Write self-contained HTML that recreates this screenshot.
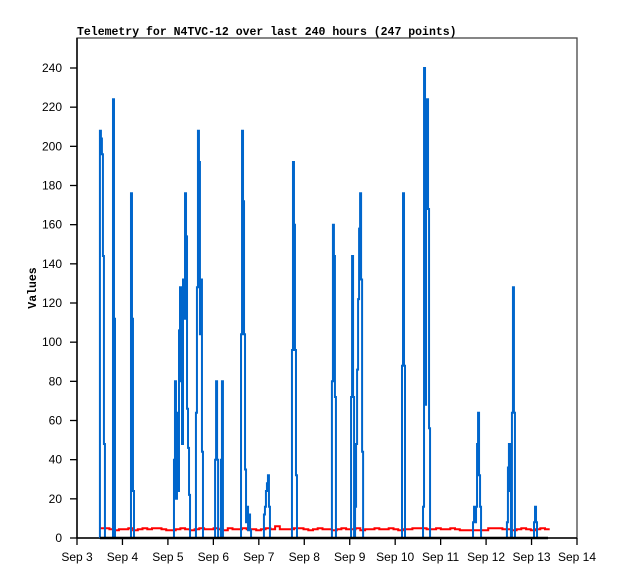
<!DOCTYPE html>
<html><head><meta charset="utf-8"><style>
html,body{margin:0;padding:0;background:#fff;}
svg{display:block;}
</style></head><body>
<svg id="chart" width="618" height="579" xmlns="http://www.w3.org/2000/svg">
<rect x="0" y="0" width="618" height="579" fill="#fff"/>
<text x="77" y="35" font-family="Liberation Mono, monospace" font-weight="bold" font-size="11.5" fill="#000">Telemetry for N4TVC-12 over last 240 hours (247 points)</text>
<text transform="translate(36,288) rotate(-90)" text-anchor="middle" font-family="Liberation Mono, monospace" font-weight="bold" font-size="11.5" fill="#000">Values</text>
<rect x="77" y="38" width="500" height="500" fill="none" stroke="#444" stroke-width="1.3"/>
<g id="axes"></g>
<g id="series"></g>
</svg>
<script>
// axis tick labels
const yTicks = [0,20,40,60,80,100,120,140,160,180,200,220,240];
const xTickLabels = ["Sep 3","Sep 4","Sep 5","Sep 6","Sep 7","Sep 8","Sep 9","Sep 10","Sep 11","Sep 12","Sep 13","Sep 14"];
// blue series: bursts of consecutive samples; start hour (since Sep 3 00:00) and sample values
const blueStep = 0.53;
const blueStart = [12.1,19.0,28.5,51.2,62.8,72.9,76.0,86.6,98.7,113.5,134.6,144.7,171.6,182.7,209.1,227.0,241.3];
const blueVals = [
 [208,204,196,144,48],
 [224,112],
 [176,112,24],
 [40,80,20,64,24,106,128,80,48,132,112,176,154,66,46,22],
 [64,128,208,192,104,132,44],
 [40,80,40],
 [40,80],
 [104,208,172,104,35,8,16,4,12,4],
 [12,16,24,28,32,16],
 [96,192,160,96,32],
 [80,160,144,72],
 [72,144,72,0,16,48,86,122,158,176,132,44],
 [88,176,88],
 [16,240,68,172,224,168,56],
 [8,16,8,16,48,64,32,16],
 [8,36,48,24,0,64,128,64],
 [8,16,8]
];
// red series: evenly sampled every 2.5 hours from hour 12.1
const redStart = 12.1;
const redStep = 2.5;
const redV = [5,5,4.5,4,4.5,4.5,5,4,4.5,5,4.5,5,5,4.5,4,4,4.5,5,4.5,4,4.5,5,4.5,4.5,5,4.5,4,5,4.5,4.5,
 5,4.5,4.5,4,4.5,5,4.5,6,4.5,4.5,4.5,5,5,4.5,4,4.5,5,4.5,4.5,4,4.5,5,4.5,4.5,5,4,4.5,4.5,5,4.5,
 4.5,5,4.5,4,4.5,4.5,5,5,5,4.5,4.5,5,4.5,4.5,5,4.5,4,4,4,4,4,4,5,5,5,4.5,4.5,4,4.5,5,4.5,4,4.5,5,4.5];
// zero series range (hours)
const zeroT = [12.1, 248.7];
const zeroV = [0, 0];

const NS = "http://www.w3.org/2000/svg";
const X0 = 77, X1 = 577, Y0 = 538, Y1 = 68;
function xs(h){ return X0 + h * (X1 - X0) / 264; }
function ys(v){ return Y0 - v * (Y0 - Y1) / 240; }
const axes = document.getElementById('axes');
const series = document.getElementById('series');
function mk(tag, attrs, parent){ const e = document.createElementNS(NS, tag); for (const k in attrs) e.setAttribute(k, attrs[k]); parent.appendChild(e); return e; }

yTicks.forEach(v => {
  const t = mk('line', {x1:70, x2:77, y1:ys(v), y2:ys(v), stroke:'#000', 'stroke-width':1.3}, axes);
  
  
  const l = mk('text', {x:62, y:ys(v)+4, 'text-anchor':'end', 'font-family':'Liberation Sans, sans-serif', 'font-size':12, fill:'#000'}, axes);
  l.textContent = v;
  
  
});
xTickLabels.forEach((s, i) => {
  const x = xs(i * 24);
  const t = mk('line', {x1:x, x2:x, y1:538, y2:545, stroke:'#000', 'stroke-width':1.3}, axes);
  
  
  const l = mk('text', {x:x, y:561, 'text-anchor':'middle', 'font-family':'Liberation Sans, sans-serif', 'font-size':12, fill:'#000'}, axes);
  l.textContent = s;
  
  
});
const ya = mk('line', {x1:77, x2:77, y1:38, y2:538, stroke:'#000', 'stroke-width':1.5}, axes);


const xa = mk('line', {x1:77, x2:577, y1:538, y2:538, stroke:'#000', 'stroke-width':1.5}, axes);



// red: step line
let rd = 'M' + xs(redStart).toFixed(1) + ',' + ys(redV[0]).toFixed(1);
redV.forEach((v, i) => {
  rd += ' V' + ys(v).toFixed(1) + ' H' + xs(redStart + (i + 1) * redStep).toFixed(1);
});
const red = mk('path', {d:rd, fill:'none', stroke:'#f00', 'stroke-width':2}, series);



// blue: step bursts
blueStart.forEach((st, c) => {
  const vals = blueVals[c];
  let d = 'M' + xs(st).toFixed(2) + ',' + ys(0).toFixed(1);
  vals.forEach((v, i) => {
    d += ' V' + ys(v).toFixed(1) + ' H' + xs(st + (i + 1) * blueStep).toFixed(2);
  });
  d += ' V' + ys(0).toFixed(1);
  const p = mk('path', {d:d, fill:'none', stroke:'#0066cc', 'stroke-width':2}, series);
  
  
});

const zpts = zeroT.map((t, i) => xs(t).toFixed(1) + ',' + ys(zeroV[i]).toFixed(1)).join(' ');
const zero = mk('polyline', {points:zpts, fill:'none', stroke:'#000', 'stroke-width':2.5}, series);


</script>
</body></html>
